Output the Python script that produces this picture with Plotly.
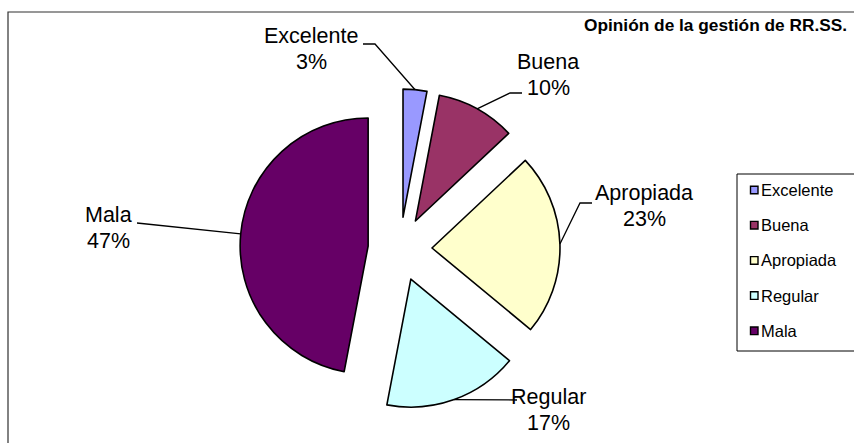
import math
import plotly.graph_objects as go

# ---- data ----
categories = ["Excelente", "Buena", "Apropiada", "Regular", "Mala"]
values = [3, 10, 23, 17, 47]
colors = ["#9999FF", "#993366", "#FFFFCC", "#CCFFFF", "#660066"]
title_text = "Opinión de la gestión de RR.SS."

# ---- layout constants (pixels) ----
W, H = 854, 443
CX, CY, R, PULL = 400, 249, 128, 0.25
FONT = "Arial, Liberation Sans, sans-serif"

# label text centres (name line) and leader-line start/elbow points
label_pos = [(311, 36), (548, 62), (644, 193), (548, 397), (108, 215)]
leader_start = [(363, 44), (522, 93), (592, 203), (517, 400), (137, 223)]
leader_elbow = [(375, 44), (510, 93), (580, 203), (517, 400), (137, 223)]
LINE_GAP = 26


def px(x):
    return x / W


def py(y):
    return 1 - y / H


half = R * (1 + PULL)
fig = go.Figure(go.Pie(
    labels=categories, values=values, sort=False, direction="clockwise",
    rotation=0, pull=[PULL] * len(values),
    marker=dict(colors=colors, line=dict(color="black", width=1.6)),
    textinfo="none", hoverinfo="label+percent", showlegend=False,
    domain=dict(x=[px(CX - half), px(CX + half)], y=[py(CY + half), py(CY - half)]),
))

shapes = []
annotations = []

# chart frame (extends past the right/bottom of the view)
shapes.append(dict(type="rect", xref="paper", yref="paper", x0=px(8), x1=px(W + 40),
                   y0=py(H + 40), y1=py(12), line=dict(color="#303030", width=1.2)))

total = sum(values)
cum = 0
for i, (cat, v) in enumerate(zip(categories, values)):
    mid = (cum + v / 2) / total * 2 * math.pi
    cum += v
    dx, dy = math.sin(mid), -math.cos(mid)
    ex, ey = CX + PULL * R * dx, CY + PULL * R * dy
    ax, ay = ex + R * dx, ey + R * dy
    (sx, sy), (bx, by) = leader_start[i], leader_elbow[i]
    shapes.append(dict(type="path", xref="paper", yref="paper",
                       path=f"M{px(sx)},{py(sy)} L{px(bx)},{py(by)} L{px(ax)},{py(ay)}",
                       line=dict(color="black", width=1.3)))
    lx, ly = label_pos[i]
    pct = f"{round(v / total * 100)}%"
    for k, t in enumerate([cat, pct]):
        annotations.append(dict(text=t, x=px(lx), y=py(ly + k * LINE_GAP), xref="paper",
                                yref="paper", showarrow=False, xanchor="center",
                                yanchor="middle", font=dict(family=FONT, size=21.5, color="black")))

# legend box
shapes.append(dict(type="rect", xref="paper", yref="paper", x0=px(737), x1=px(W + 40),
                   y0=py(351), y1=py(174), line=dict(color="black", width=1)))
for i, (cat, col) in enumerate(zip(categories, colors)):
    yc = 190 + i * 35.2
    shapes.append(dict(type="rect", xref="paper", yref="paper", x0=px(750.5), x1=px(758),
                       y0=py(yc + 3.8), y1=py(yc - 3.8), fillcolor=col,
                       line=dict(color="black", width=1.4)))
    annotations.append(dict(text=cat, x=px(758.5), y=py(yc), xref="paper", yref="paper",
                            showarrow=False, xanchor="left", yanchor="middle",
                            font=dict(family=FONT, size=16.5, color="black")))

annotations.append(dict(text=f"<b>{title_text}</b>", x=px(582), y=py(25), xref="paper",
                        yref="paper", showarrow=False, xanchor="left", yanchor="middle",
                        font=dict(family=FONT, size=17.3, color="black")))

fig.update_layout(width=W, height=H, margin=dict(l=0, r=0, t=0, b=0),
                  paper_bgcolor="white", plot_bgcolor="white",
                  shapes=shapes, annotations=annotations)
fig.write_html("out.html", config={"displayModeBar": False},
               post_script="document.body.style.margin='0';document.body.style.overflow='hidden';")
